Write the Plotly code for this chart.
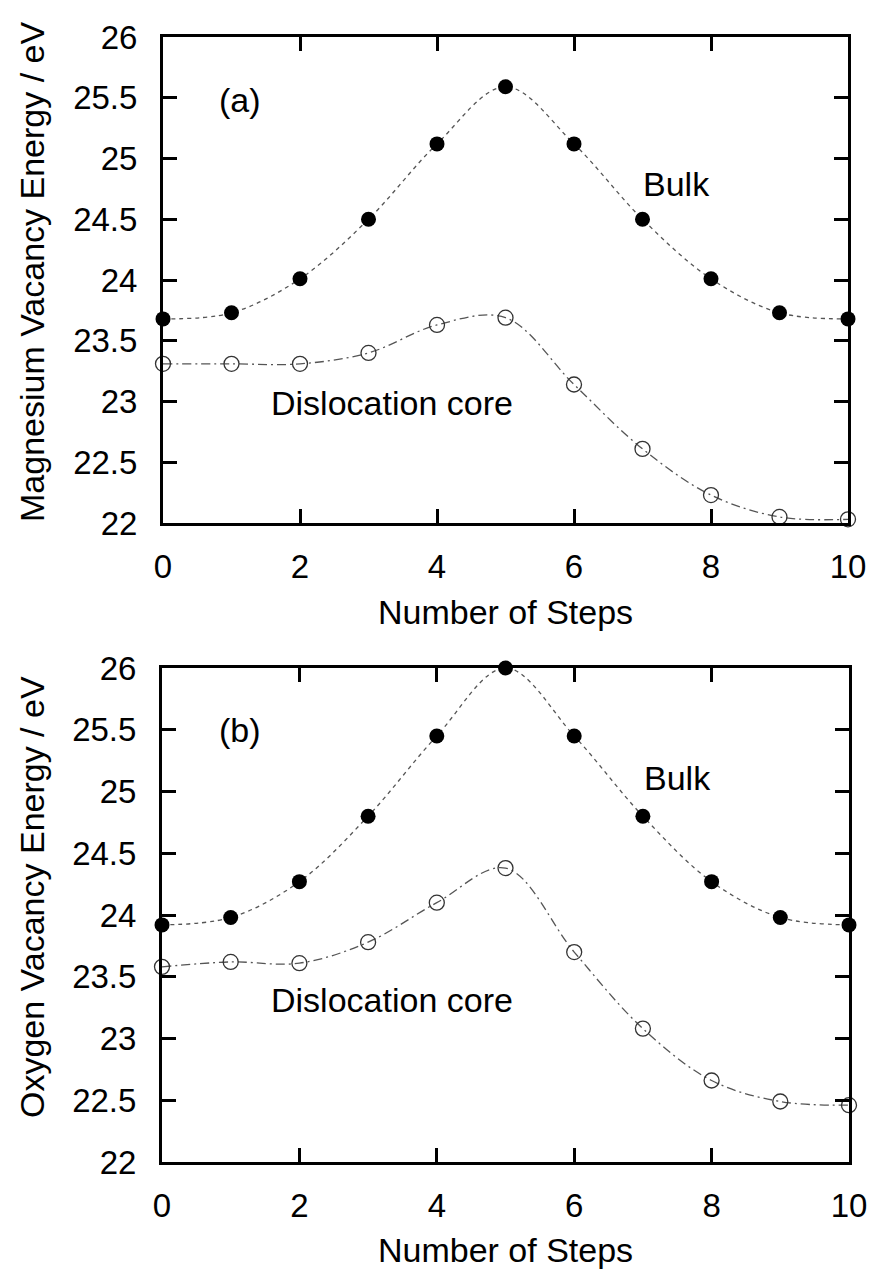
import plotly.graph_objects as go

steps = list(range(11))
mg_bulk = [23.68, 23.73, 24.01, 24.50, 25.12, 25.59, 25.12, 24.50, 24.01, 23.73, 23.68]
mg_core = [23.31, 23.31, 23.31, 23.40, 23.63, 23.69, 23.14, 22.61, 22.23, 22.05, 22.03]
o_bulk = [23.92, 23.98, 24.27, 24.80, 25.45, 26.00, 25.45, 24.80, 24.27, 23.98, 23.92]
o_core = [23.58, 23.62, 23.61, 23.78, 24.10, 24.38, 23.70, 23.08, 22.66, 22.49, 22.46]

W, H = 880, 1275
FONT = "Liberation Sans, Arial, Helvetica, sans-serif"
LINE = "#555555"
TICK_SIZE = 33
TEXT_SIZE = 34

fig = go.Figure()

def add_panel(bulk, core, xa, ya):
    fig.add_trace(go.Scatter(x=steps, y=bulk, mode="lines", line=dict(color=LINE, width=1.3, dash="4px,4px", shape="spline", smoothing=1.0),
                             xaxis=xa, yaxis=ya, showlegend=False, cliponaxis=False))
    fig.add_trace(go.Scatter(x=steps, y=core, mode="lines", line=dict(color=LINE, width=1.3, dash="9px,4px,2px,4px", shape="spline", smoothing=1.0),
                             xaxis=xa, yaxis=ya, showlegend=False, cliponaxis=False))
    fig.add_trace(go.Scatter(x=steps, y=bulk, mode="markers", marker=dict(symbol="circle", size=15, color="black", line=dict(width=0)),
                             xaxis=xa, yaxis=ya, showlegend=False, cliponaxis=False))
    fig.add_trace(go.Scatter(x=steps, y=core, mode="markers", marker=dict(symbol="circle-open", size=15, color="#333333", line=dict(width=1.3)),
                             xaxis=xa, yaxis=ya, showlegend=False, cliponaxis=False))

add_panel(mg_bulk, mg_core, "x", "y")
add_panel(o_bulk, o_core, "x2", "y2")

def px_x(a, b):
    return [a / W, b / W]

def px_y(top, bottom):
    return [1 - bottom / H, 1 - top / H]

axis_common = dict(
    showline=True, linecolor="black", linewidth=3, mirror="ticks",
    ticks="inside", ticklen=14, tickwidth=3, tickcolor="black",
    showgrid=False, zeroline=False, automargin=False,
    tickfont=dict(family=FONT, size=TICK_SIZE, color="black"),
)

xticks = [0, 2, 4, 6, 8, 10]
yticks = [22, 22.5, 23, 23.5, 24, 24.5, 25, 25.5, 26]
ytext = ["22", "22.5", "23", "23.5", "24", "24.5", "25", "25.5", "26"]

fig.update_layout(
    width=W, height=H, margin=dict(l=0, r=0, t=0, b=0, autoexpand=False),
    paper_bgcolor="white", plot_bgcolor="white",
    font=dict(family=FONT, size=TEXT_SIZE, color="black"),
    xaxis=dict(domain=px_x(163, 848), range=[0, 10], anchor="y", tickvals=xticks, ticklabelstandoff=12, **axis_common),
    yaxis=dict(domain=px_y(37, 523), range=[22, 26], anchor="x", tickvals=yticks, ticktext=ytext, ticklabelstandoff=16, **axis_common),
    xaxis2=dict(domain=px_x(162, 849), range=[0, 10], anchor="y2", tickvals=xticks, ticklabelstandoff=12, **axis_common),
    yaxis2=dict(domain=px_y(668, 1162), range=[22, 26], anchor="x2", tickvals=yticks, ticktext=ytext, ticklabelstandoff=16, **axis_common),
)

ann_font = dict(family=FONT, size=TEXT_SIZE, color="black")
annotations = [
    dict(x=1.13, y=25.48, xref="x", yref="y", text="(a)"),
    dict(x=7.5, y=24.79, xref="x", yref="y", text="Bulk"),
    dict(x=3.35, y=22.99, xref="x", yref="y", text="Dislocation core"),
    dict(x=1.13, y=25.5, xref="x2", yref="y2", text="(b)"),
    dict(x=7.5, y=25.11, xref="x2", yref="y2", text="Bulk"),
    dict(x=3.35, y=23.31, xref="x2", yref="y2", text="Dislocation core"),
    # axis titles
    dict(x=505 / W, y=1 - 612 / H, xref="paper", yref="paper", text="Number of Steps"),
    dict(x=505 / W, y=1 - 1250 / H, xref="paper", yref="paper", text="Number of Steps"),
    dict(x=32 / W, y=1 - 272 / H, xref="paper", yref="paper", text="Magnesium Vacancy Energy / eV", textangle=-90),
    dict(x=32 / W, y=1 - 897 / H, xref="paper", yref="paper", text="Oxygen Vacancy Energy / eV", textangle=-90),
]
for a in annotations:
    a.update(showarrow=False, font=ann_font, xanchor="center", yanchor="middle")
fig.update_layout(annotations=annotations)

fig.write_html("out.html")
